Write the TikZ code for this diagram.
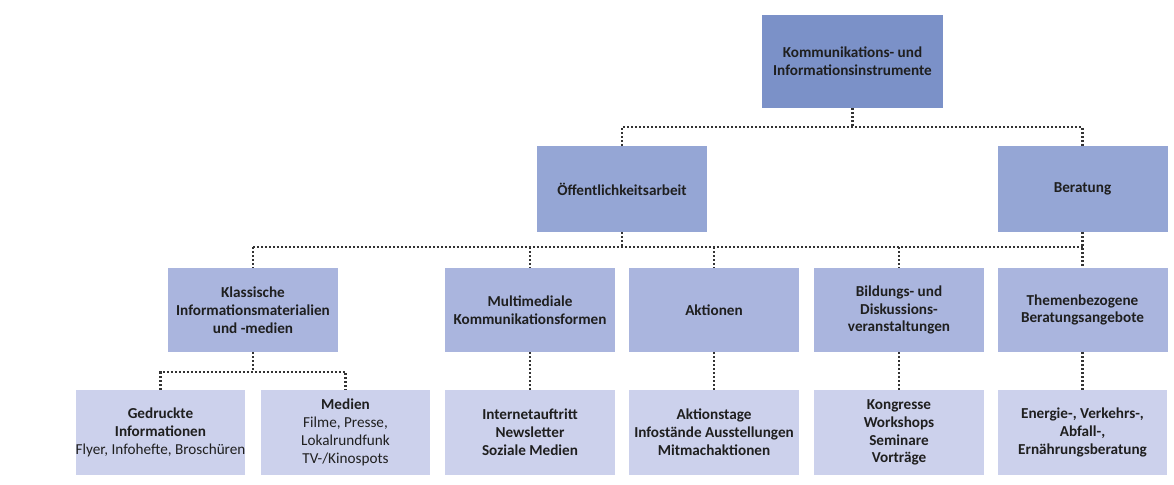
\documentclass[tikz,border=0pt]{standalone}
\usepackage{fontspec}
\setmainfont{Carlito}
\begin{document}
\begin{tikzpicture}[x=0.75pt,y=-0.75pt,
  box/.style={inner sep=0pt,align=center,font=\fontsize{11.4}{13.4}\selectfont\bfseries,text=black!88},
  topbox/.style={box,fill=c1,minimum width=135.75pt,minimum height=69.75pt},
  midbox/.style={box,fill=c2,minimum width=127.5pt,minimum height=64.5pt},
  subbox/.style={box,fill=c3,minimum width=127.5pt,minimum height=63pt},
  leafbox/.style={box,fill=c4,minimum width=127pt,minimum height=63.75pt},
  dot/.style={draw=black!80,line width=1.8pt,dash pattern=on 1.5pt off 1.5pt}]
\definecolor{c1}{HTML}{7B91C8}
\definecolor{c2}{HTML}{95A6D5}
\definecolor{c3}{HTML}{AAB5DE}
\definecolor{c4}{HTML}{CCD1EC}
\useasboundingbox (0,0) rectangle (1174,485);
% top level
\node[topbox] (top) at (852.5,61.5) {Kommunikations- und\\Informationsinstrumente};
% second level
\node[midbox] (oeff) at (622,189) {Öffentlichkeitsarbeit};
\node[midbox] (ber) at (1082.5,189) {Beratung};
% third level
\node[subbox] (klass) at (253,310) {Klassische\\Informationsmaterialien\\und -medien};
\node[subbox] (multi) at (530,310) {Multimediale\\Kommunikationsformen};
\node[subbox] (akt) at (714,310) {Aktionen};
\node[subbox] (bild) at (899,310) {Bildungs- und\\Diskussions-\\veranstaltungen};
\node[subbox] (them) at (1082.5,310) {Themenbezogene\\Beratungsangebote};
% leaves
\node[leafbox] (ged) at (160.5,432.5) {Gedruckte\\Informationen\\\mdseries Flyer, Infohefte, Broschüren};
\node[leafbox] (med) at (345.5,432.5) {Medien\\\mdseries Filme, Presse,\\\mdseries Lokalrundfunk\\\mdseries TV-/Kinospots};
\node[leafbox] (inet) at (530,432.5) {Internetauftritt\\Newsletter\\Soziale Medien};
\node[leafbox] (atag) at (714,432.5) {Aktionstage\\Infostände Ausstellungen\\Mitmachaktionen};
\node[leafbox] (kong) at (899,432.5) {Kongresse\\Workshops\\Seminare\\Vorträge};
\node[leafbox] (ener) at (1082.5,432.5) {Energie-, Verkehrs-,\\Abfall-,\\Ernährungsberatung};
% junctions
\coordinate (j1) at (852.5,127);
\coordinate (j2) at (622,247);
\coordinate (j3) at (253,372);
% top -> second level
\draw[dot] (top.south) -- (j1);
\draw[dot] (oeff.north) -- (oeff.north |- j1) -- (ber.north |- j1) -- (ber.north);
% second -> third level
\draw[dot] (oeff.south) -- (j2);
\draw[dot] (klass.north |- j2) -- (them.north |- j2);
\draw[dot] (ber.south) -- (them.north);
\foreach \n in {klass,multi,akt,bild}
  \draw[dot] (\n.north |- j2) -- (\n.north);
% third level -> leaves
\draw[dot] (klass.south) -- (j3);
\draw[dot] (ged.north) -- (ged.north |- j3) -- (med.north |- j3) -- (med.north);
\draw[dot] (multi.south) -- (inet.north);
\draw[dot] (akt.south) -- (atag.north);
\draw[dot] (bild.south) -- (kong.north);
\draw[dot] (them.south) -- (ener.north);
\end{tikzpicture}
\end{document}
